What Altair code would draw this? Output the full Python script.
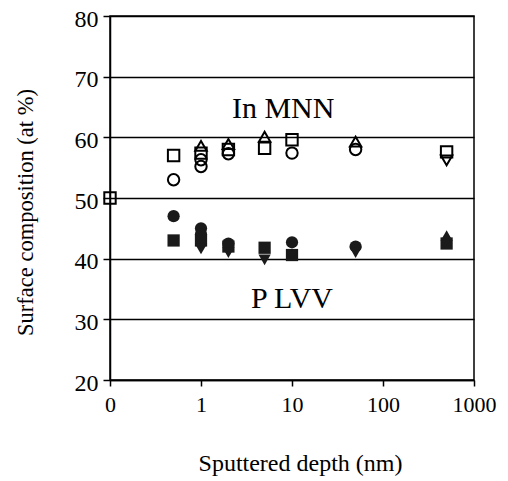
import altair as alt
import pandas as pd

# ---- data ----
x_ticks = [0, 1, 10, 100, 1000]
y_ticks = [20, 30, 40, 50, 60, 70, 80]

# In MNN (open symbols)
in_circle_x = [0.5, 1, 1, 2, 10, 50]
in_circle_y = [53.0, 55.2, 56.3, 57.3, 57.4, 58.0]
in_square_x = [0, 0.5, 1, 2, 5, 10, 500]
in_square_y = [50.0, 57.0, 57.4, 58.0, 58.2, 59.6, 57.6]
in_triup_x = [1, 2, 5, 50]
in_triup_y = [58.6, 58.9, 60.1, 59.3]
in_tridown_x = [500]
in_tridown_y = [56.2]

# P LVV (filled symbols)
p_circle_x = [0.5, 1, 1, 2, 10, 50]
p_circle_y = [47.0, 45.0, 44.0, 42.5, 42.7, 42.0]
p_square_x = [0.5, 1, 2, 5, 10, 500]
p_square_y = [43.0, 43.0, 42.0, 41.8, 40.6, 42.5]
p_tridown_x = [1, 2, 5, 10, 50]
p_tridown_y = [41.6, 41.0, 39.8, 40.5, 41.0]
p_triup_x = [500]
p_triup_y = [43.8]

labels_text = ["In MNN", "P LVV"]
labels_x = [8, 10]
labels_y = [64.6, 33.4]

ZERO_POS = 0.1  # the "0" tick sits one decade below 1 on the log axis

rows = []
def add(xs, ys, marker, filled):
    for x, y in zip(xs, ys):
        rows.append({"depth": x, "xpos": x if x > 0 else ZERO_POS,
                     "value": y, "marker": marker, "filled": filled})

add(in_circle_x, in_circle_y, "circle", False)
add(in_square_x, in_square_y, "square", False)
add(in_triup_x, in_triup_y, "triangle-up", False)
add(in_tridown_x, in_tridown_y, "triangle-down", False)
add(p_circle_x, p_circle_y, "circle", True)
add(p_square_x, p_square_y, "square", True)
add(p_tridown_x, p_tridown_y, "triangle-down", True)
add(p_triup_x, p_triup_y, "triangle-up", True)
df = pd.DataFrame(rows)

lab = pd.DataFrame({"text": labels_text, "x": labels_x, "y": labels_y})

FONT = "Liberation Serif"
shapes = ["circle", "square", "triangle-up", "triangle-down"]
tick_pos = [v if v > 0 else ZERO_POS for v in x_ticks]

xscale = alt.Scale(type="log", domain=[ZERO_POS, 1000])
yscale = alt.Scale(domain=[20, 80])

xaxis = alt.Axis(values=tick_pos, grid=False, tickSize=6,
                 labelExpr="datum.value < 0.5 ? '0' : format(datum.value, 'd')",
                 labelFont=FONT, labelFontSize=22, labelPadding=8,
                 labelFlush=False,
                 title="Sputtered depth (nm)", titleFontSize=24,
                 titleX=190, titleY=83, titleBaseline="middle", titleAlign="center")
yaxis = alt.Axis(values=y_ticks, grid=True, gridColor="black", gridWidth=1.3,
                 gridOpacity=1, tickSize=7, labelFont=FONT,
                 labelFontSize=24, labelPadding=5, labelOffset=3, labelFlush=False,
                 title="Surface composition (at %)", titleFontSize=22.5,
                 titleX=-85, titleY=196, titleAngle=-90,
                 titleBaseline="middle", titleAlign="center")

base = alt.Chart(df)
open_pts = base.transform_filter("!datum.filled").mark_point(
    filled=False, color="black", strokeWidth=2, size=130, opacity=1
).encode(
    x=alt.X("xpos:Q", scale=xscale, axis=xaxis),
    y=alt.Y("value:Q", scale=yscale, axis=yaxis),
    shape=alt.Shape("marker:N", scale=alt.Scale(domain=shapes, range=shapes), legend=None),
)
filled_pts = base.transform_filter("datum.filled").mark_point(
    filled=True, color="#1a1a1a", size=150, opacity=1
).encode(
    x=alt.X("xpos:Q", scale=xscale, axis=xaxis),
    y=alt.Y("value:Q", scale=yscale, axis=yaxis),
    shape=alt.Shape("marker:N", scale=alt.Scale(domain=shapes, range=shapes), legend=None),
)
texts = alt.Chart(lab).mark_text(font=FONT, fontSize=30, color="black").encode(
    x=alt.X("x:Q", scale=xscale, axis=xaxis),
    y=alt.Y("y:Q", scale=yscale, axis=yaxis),
    text="text:N",
)

chart = alt.layer(open_pts, filled_pts, texts).properties(
    width=364, height=364,
    background="white",
    autosize=alt.AutoSizeParams(type="none"),
    padding={"left": 102, "top": 8, "right": 26, "bottom": 96},
).configure_view(
    stroke="black", strokeWidth=1.5
).configure_axis(
    titleFont=FONT, labelColor="black", titleColor="black",
    titleFontWeight="normal",
    tickColor="black", tickWidth=1.5, domainColor="black", domainWidth=1.5,
)

chart.save("out.html", embed_options={"renderer": "svg", "actions": False})
